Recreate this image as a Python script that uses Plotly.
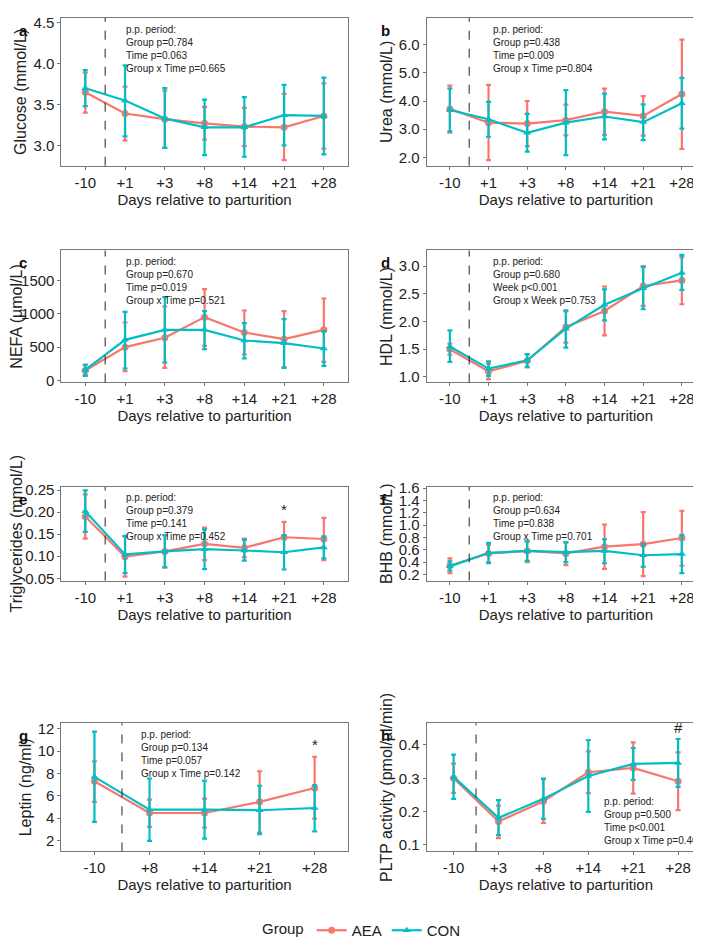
import plotly.graph_objects as go

AEA_COLOR = "#F8766D"
CON_COLOR = "#00BFC4"
FONT = "Liberation Sans Narrow, Liberation Sans, Arial"

days7 = ["-10", "+1", "+3", "+8", "+14", "+21", "+28"]
days_g = ["-10", "+8", "+14", "+21", "+28"]
days_h = ["-10", "+3", "+8", "+14", "+21", "+28"]

# panel a: glucose
glu_aea = [3.65, 3.39, 3.32, 3.27, 3.23, 3.22, 3.36]
glu_aea_lo = [3.40, 3.06, 2.97, 3.07, 2.99, 2.82, 2.96]
glu_aea_hi = [3.89, 3.72, 3.67, 3.47, 3.46, 3.63, 3.76]
glu_con = [3.70, 3.55, 3.33, 3.22, 3.22, 3.37, 3.36]
glu_con_lo = [3.48, 3.11, 2.97, 2.88, 2.86, 3.00, 2.89]
glu_con_hi = [3.92, 3.98, 3.70, 3.56, 3.59, 3.74, 3.83]

# panel b: urea
urea_aea = [3.72, 3.23, 3.20, 3.32, 3.62, 3.47, 4.25]
urea_aea_lo = [2.88, 1.90, 2.40, 2.78, 2.80, 2.77, 2.30]
urea_aea_hi = [4.55, 4.57, 4.00, 3.87, 4.44, 4.17, 6.18]
urea_con = [3.68, 3.35, 2.87, 3.23, 3.45, 3.25, 3.92]
urea_con_lo = [2.92, 2.73, 2.20, 2.08, 2.64, 2.61, 3.02]
urea_con_hi = [4.44, 3.97, 3.54, 4.39, 4.26, 3.88, 4.82]

# panel c: NEFA
nefa_aea = [150, 500, 640, 950, 720, 620, 760]
nefa_aea_lo = [80, 140, 190, 520, 390, 200, 280]
nefa_aea_hi = [230, 870, 1110, 1370, 1050, 1040, 1230]
nefa_con = [160, 610, 760, 760, 600, 560, 480]
nefa_con_lo = [70, 180, 270, 470, 330, 190, 220]
nefa_con_hi = [240, 1030, 1250, 1040, 860, 920, 740]

# panel d: HDL
hdl_aea = [1.50, 1.10, 1.29, 1.90, 2.19, 2.64, 2.74]
hdl_aea_lo = [1.40, 0.96, 1.17, 1.62, 1.75, 2.28, 2.31]
hdl_aea_hi = [1.60, 1.24, 1.41, 2.18, 2.63, 3.00, 3.16]
hdl_con = [1.55, 1.15, 1.30, 1.87, 2.30, 2.60, 2.88]
hdl_con_lo = [1.27, 1.02, 1.18, 1.53, 2.02, 2.22, 2.57]
hdl_con_hi = [1.84, 1.28, 1.41, 2.20, 2.58, 2.98, 3.20]

# panel e: triglycerides
tg_aea = [0.190, 0.099, 0.111, 0.128, 0.119, 0.143, 0.139]
tg_aea_lo = [0.140, 0.054, 0.074, 0.091, 0.098, 0.108, 0.091]
tg_aea_hi = [0.240, 0.145, 0.148, 0.165, 0.140, 0.178, 0.187]
tg_con = [0.202, 0.104, 0.111, 0.116, 0.113, 0.109, 0.120]
tg_con_lo = [0.155, 0.062, 0.075, 0.071, 0.090, 0.070, 0.095]
tg_con_hi = [0.249, 0.146, 0.148, 0.161, 0.137, 0.148, 0.145]

# panel f: BHB
bhb_aea = [0.34, 0.54, 0.58, 0.54, 0.65, 0.69, 0.79]
bhb_aea_lo = [0.22, 0.40, 0.40, 0.35, 0.29, 0.17, 0.34]
bhb_aea_hi = [0.46, 0.68, 0.75, 0.72, 1.01, 1.21, 1.23]
bhb_con = [0.33, 0.55, 0.58, 0.56, 0.58, 0.51, 0.53]
bhb_con_lo = [0.26, 0.38, 0.42, 0.40, 0.38, 0.32, 0.22]
bhb_con_hi = [0.41, 0.71, 0.73, 0.72, 0.77, 0.69, 0.84]

# panel g: leptin
lep_aea = [7.3, 4.45, 4.45, 5.45, 6.7]
lep_aea_lo = [5.45, 3.2, 3.15, 2.7, 3.95]
lep_aea_hi = [9.1, 5.65, 5.75, 8.2, 9.5]
lep_con = [7.7, 4.75, 4.75, 4.7, 4.9]
lep_con_lo = [3.65, 1.95, 2.15, 2.55, 2.8]
lep_con_hi = [11.75, 7.55, 7.35, 6.9, 6.95]

# panel h: PLTP activity
pltp_aea = [0.300, 0.170, 0.231, 0.318, 0.331, 0.291]
pltp_aea_lo = [0.256, 0.120, 0.166, 0.255, 0.254, 0.204]
pltp_aea_hi = [0.344, 0.218, 0.297, 0.381, 0.408, 0.378]
pltp_con = [0.304, 0.181, 0.238, 0.307, 0.343, 0.346]
pltp_con_lo = [0.238, 0.129, 0.178, 0.199, 0.295, 0.274]
pltp_con_hi = [0.371, 0.234, 0.299, 0.415, 0.391, 0.418]

W, H = 701, 945
L_COL = (45, 335)
R_COL = (415, 697)
ROWS = [(2, 152), (238, 372), (478, 573), (718, 848)]

panels = [
    dict(letter="a", days=days7, aea=(glu_aea, glu_aea_lo, glu_aea_hi), con=(glu_con, glu_con_lo, glu_con_hi),
         ytitle="Glucose (mmol/L)", yrange=[2.75, 4.56], dtick=0.5, fmt=".1f",
         stats="p.p. period:<br>Group p=0.784<br>Time p=0.063<br>Group x Time p=0.665", spos="top", mark=None),
    dict(letter="b", days=days7, aea=(urea_aea, urea_aea_lo, urea_aea_hi), con=(urea_con, urea_con_lo, urea_con_hi),
         ytitle="Urea (mmol/L)", yrange=[1.7, 6.95], dtick=1, fmt=".1f",
         stats="p.p. period:<br>Group p=0.438<br>Time p=0.009<br>Group x Time p=0.804", spos="top", mark=None),
    dict(letter="c", days=days7, aea=(nefa_aea, nefa_aea_lo, nefa_aea_hi), con=(nefa_con, nefa_con_lo, nefa_con_hi),
         ytitle="NEFA (µmol/L)", yrange=[-30, 1950], dtick=500, fmt="d",
         stats="p.p. period:<br>Group p=0.670<br>Time p=0.019<br>Group x Time p=0.521", spos="top", mark=None),
    dict(letter="d", days=days7, aea=(hdl_aea, hdl_aea_lo, hdl_aea_hi), con=(hdl_con, hdl_con_lo, hdl_con_hi),
         ytitle="HDL (mmol/L)", yrange=[0.9, 3.28], dtick=0.5, fmt=".1f",
         stats="p.p. period:<br>Group p=0.680<br>Week p<0.001<br>Group x Week p=0.753", spos="top", mark=None),
    dict(letter="e", days=days7, aea=(tg_aea, tg_aea_lo, tg_aea_hi), con=(tg_con, tg_con_lo, tg_con_hi),
         ytitle="Triglycerides (mmol/L)", yrange=[0.045, 0.257], dtick=0.05, fmt=".2f",
         stats="p.p. period:<br>Group p=0.379<br>Time p=0.141<br>Group x Time p=0.452", spos="top", mark=(5, "*")),
    dict(letter="f", days=days7, aea=(bhb_aea, bhb_aea_lo, bhb_aea_hi), con=(bhb_con, bhb_con_lo, bhb_con_hi),
         ytitle="BHB (mmol/L)", yrange=[0.1, 1.62], dtick=0.2, fmt=".1f",
         stats="p.p. period:<br>Group p=0.634<br>Time p=0.838<br>Group x Time p=0.701", spos="top", mark=None),
    dict(letter="g", days=days_g, aea=(lep_aea, lep_aea_lo, lep_aea_hi), con=(lep_con, lep_con_lo, lep_con_hi),
         ytitle="Leptin (ng/ml)", yrange=[1, 12.5], dtick=2, fmt="d",
         stats="p.p. period:<br>Group p=0.134<br>Time p=0.057<br>Group x Time p=0.142", spos="top", mark=(4, "*")),
    dict(letter="h", days=days_h, aea=(pltp_aea, pltp_aea_lo, pltp_aea_hi), con=(pltp_con, pltp_con_lo, pltp_con_hi),
         ytitle="PLTP activity (pmol/µl/min)", yrange=[0.08, 0.465], dtick=0.1, fmt=".1f",
         stats="p.p. period:<br>Group p=0.500<br>Time p<0.001<br>Group x Time p=0.402", spos="bottom", mark=(5, "#")),
]

fig = go.Figure()
layout = {}
for i, p in enumerate(panels):
    sfx = "" if i == 0 else str(i + 1)
    col = L_COL if i % 2 == 0 else R_COL
    top, bot = ROWS[i // 2]
    xr, yr = f"x{sfx}", f"y{sfx}"
    xs = list(range(len(p["days"])))
    for name, key, color, sym in [("AEA", "aea", AEA_COLOR, "circle"), ("CON", "con", CON_COLOR, "triangle-up")]:
        mean, lo, hi = p[key]
        fig.add_trace(go.Scatter(
            x=xs, y=mean, xaxis=xr, yaxis=yr, mode="lines+markers", name=name,
            legendgroup=name, showlegend=(i == 0),
            line=dict(color=color, width=2.2), marker=dict(color=color, symbol=sym, size=7),
            error_y=dict(type="data", symmetric=False,
                         array=[h - m for h, m in zip(hi, mean)],
                         arrayminus=[m - l for m, l in zip(mean, lo)],
                         color=color, thickness=2.2, width=2.5)))
    layout[f"xaxis{sfx}"] = dict(domain=[col[0] / W, col[1] / W], anchor=yr, range=[-0.6, len(xs) - 0.4],
                                 tickmode="array", tickvals=xs, ticktext=p["days"],
                                 showline=True, mirror=True, linecolor="#777", linewidth=1,
                                 ticks="outside", ticklen=3, tickcolor="#777", showgrid=False, zeroline=False,
                                 tickfont=dict(size=15, color="#222"),
                                 title=dict(text="Days relative to parturition", font=dict(size=15, color="#222"),
                                            standoff=4))
    layout[f"yaxis{sfx}"] = dict(domain=[1 - bot / H, 1 - top / H], anchor=xr, range=p["yrange"], dtick=p["dtick"],
                                 tickformat=p["fmt"], showline=True, mirror=True, linecolor="#777", linewidth=1,
                                 ticks="outside", ticklen=3, tickcolor="#777", showgrid=False, zeroline=False,
                                 tickfont=dict(size=15, color="#222"),
                                 title=dict(text=p["ytitle"], font=dict(size=16, color="#222"), standoff=2))
    fig.add_shape(type="line", xref=xr, yref=f"{yr} domain", x0=0.5, x1=0.5, y0=0, y1=1,
                  line=dict(color="#222", width=1, dash="dash"))
    if p["spos"] == "top":
        sx = 0.27 if i == 6 else (0.22 if i % 2 == 0 else 0.23)
        fig.add_annotation(xref=f"{xr} domain", yref=f"{yr} domain", x=sx, y=0.97,
                           xanchor="left", yanchor="top", align="left", showarrow=False,
                           text=p["stats"], font=dict(family=FONT, size=10, color="#222"))
    else:
        fig.add_annotation(xref=f"{xr} domain", yref=f"{yr} domain", x=0.63, y=0.03,
                           xanchor="left", yanchor="bottom", align="left", showarrow=False,
                           text=p["stats"], font=dict(family=FONT, size=10, color="#222"))
    if p["mark"]:
        k, sym = p["mark"]
        top_val = max(p["aea"][2][k], p["con"][2][k])
        fig.add_annotation(xref=xr, yref=yr, x=k, y=top_val, yshift=12, showarrow=False,
                           text=sym, font=dict(size=15, color="#222"))
    fig.add_annotation(xref="paper", yref="paper", x=(col[0] - 45) / W if i % 2 == 0 else (col[0] - 48) / W,
                       y=1 - (top + 2) / H, xanchor="left", yanchor="top", showarrow=False,
                       text=f"<b>{p['letter']}</b>", font=dict(size=15, color="#111"))

fig.update_layout(
    width=W, height=H, margin=dict(l=0, r=0, t=0, b=0),
    plot_bgcolor="white", paper_bgcolor="white",
    font=dict(family=FONT, color="#222"),
    legend=dict(orientation="h", x=0.5, xanchor="center", y=0.0, yanchor="bottom",
                title=dict(text="Group", font=dict(size=15)), font=dict(size=15), itemwidth=30),
    **layout)

fig.write_html("out.html")
